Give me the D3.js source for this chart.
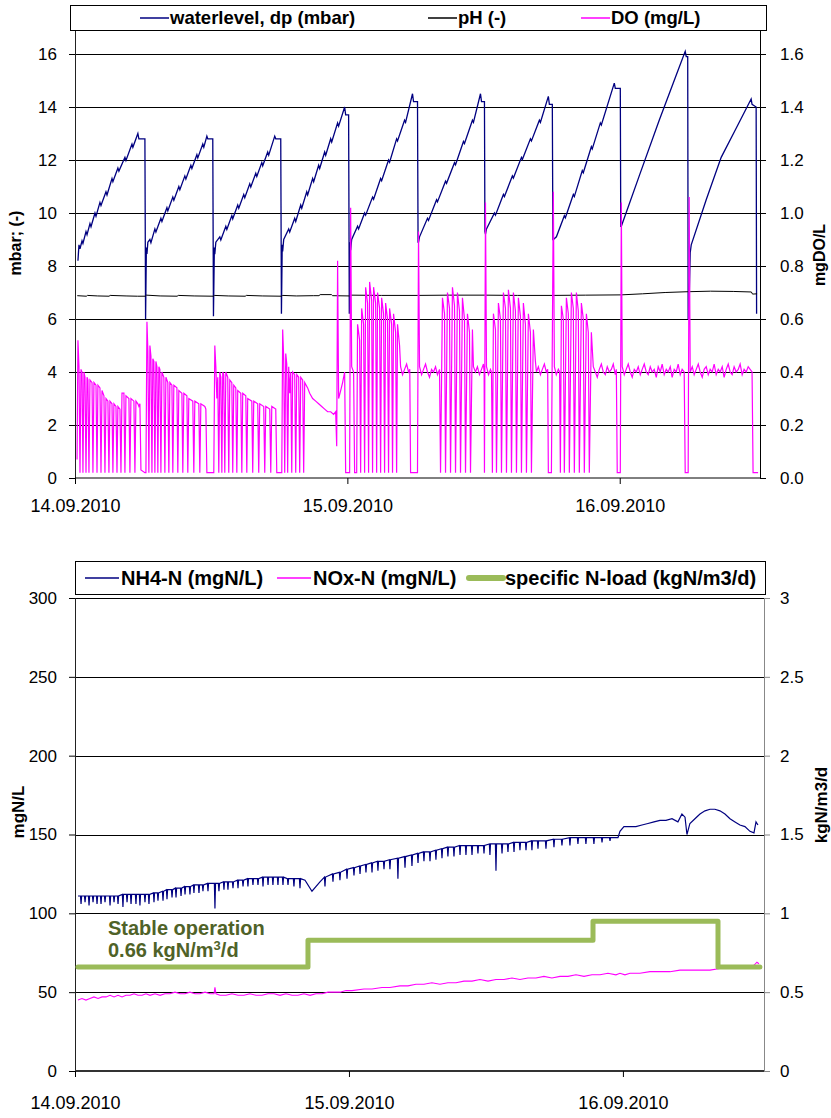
<!DOCTYPE html>
<html><head><meta charset="utf-8">
<script src="https://cdn.jsdelivr.net/npm/d3@7"></script>
<style>body{margin:0;background:#fff} text{font-family:"Liberation Sans",Arial,sans-serif;fill:#000}</style>
</head><body><svg id="c" width="831" height="1118"></svg>
<script>
// ---------------- DATA (time in hours after 14.09.2010 00:00) ----------------
const dayTickHours = [0, 24, 48];
const dayTickLabels = ["14.09.2010", "15.09.2010", "16.09.2010"];
const hoursSpan = [0, 60.36];

const topLeftTicks = [0, 2, 4, 6, 8, 10, 12, 14, 16];
const topRightTicks = [0, 0.2, 0.4, 0.6, 0.8, 1.0, 1.2, 1.4, 1.6];
const botLeftTicks = [0, 50, 100, 150, 200, 250, 300];
const botRightTicks = [0, 0.5, 1, 1.5, 2, 2.5, 3];

const topLegend = ["waterlevel, dp (mbar)", "pH (-)", "DO (mg/L)"];
const botLegend = ["NH4-N (mgN/L)", "NOx-N (mgN/L)", "specific N-load (kgN/m3/d)"];

// waterlevel, dp (mbar)
const waterlevel = [
 [0.26,8.2],[0.35,8.8],[0.44,8.65],[0.62,8.95],[0.70,8.85],[0.97,9.3],[1.06,9.18],[1.32,9.6],[1.41,9.48],[1.76,10.0],[1.85,9.88],
 [2.20,10.4],[2.29,10.28],[2.73,10.8],[2.82,10.68],[3.26,11.3],[3.34,11.18],[3.78,11.7],[3.87,11.58],[4.40,12.1],[4.49,11.98],
 [5.02,12.6],[5.10,12.48],[5.54,13.0],[5.63,12.8],[6.16,12.8],[6.22,6.0],[6.29,8.7],
 [6.34,8.45],[6.42,8.9],[6.60,9.0],[6.69,8.88],[7.04,9.4],[7.13,9.28],[7.57,9.8],[7.66,9.68],[8.10,10.2],[8.18,10.08],[8.62,10.6],[8.71,10.48],
 [9.15,11.0],[9.24,10.88],[9.68,11.4],[9.77,11.28],[10.21,11.8],[10.30,11.68],[10.74,12.2],[10.82,12.08],[11.26,12.6],[11.35,12.48],
 [11.62,12.9],[11.70,12.8],[12.14,12.8],[12.20,6.1],[12.28,8.7],
 [12.32,8.45],[12.41,8.9],[12.76,9.1],[12.85,8.98],[13.29,9.5],[13.38,9.38],[13.82,9.9],[13.90,9.78],[14.34,10.3],[14.43,10.18],
 [14.87,10.7],[14.96,10.58],[15.40,11.1],[15.49,10.98],[15.93,11.5],[16.02,11.38],[16.46,11.9],[16.54,11.78],[16.98,12.3],[17.07,12.18],
 [17.60,12.9],[17.69,12.8],[18.13,12.8],[18.19,6.2],[18.26,8.8],
 [18.30,8.55],[18.39,9.0],[18.83,9.4],[18.92,9.28],[19.36,9.8],[19.45,9.68],[19.89,10.3],[19.98,10.18],[20.42,10.8],[20.50,10.68],
 [20.94,11.3],[21.03,11.18],[21.47,11.8],[21.56,11.68],[22.00,12.3],[22.09,12.18],[22.53,12.8],[22.62,12.68],[23.14,13.4],[23.23,13.28],
 [23.76,14.0],[23.85,13.7],[24.11,13.7],[24.17,6.2],[24.24,8.9],
 [24.29,8.6],[24.38,9.0],[24.90,9.5],[24.99,9.4],[25.52,10.0],[25.61,9.92],[26.22,10.6],[26.31,10.52],[26.93,11.3],[27.02,11.22],
 [27.63,12.0],[27.72,11.92],[28.34,12.8],[28.42,12.72],[29.04,13.5],[29.13,13.42],[29.74,14.5],[29.83,14.2],[30.18,14.2],[30.23,8.9],
 [30.27,8.9],[30.36,9.1],[31.06,9.8],[31.15,9.72],[31.86,10.5],[31.94,10.42],[32.65,11.2],[32.74,11.12],[33.44,11.9],[33.53,11.82],
 [34.23,12.7],[34.32,12.62],[35.02,13.5],[35.11,13.42],[35.73,14.5],[35.82,14.2],[36.08,14.2],[36.12,9.3],
 [36.17,9.2],[36.26,9.4],[36.96,10.0],[37.05,9.92],[37.75,10.7],[37.84,10.62],[38.54,11.4],[38.63,11.32],[39.34,12.1],[39.42,12.02],
 [40.13,12.8],[40.22,12.72],[40.92,13.5],[41.01,13.42],[41.71,14.4],[41.80,14.1],[42.06,14.1],[42.11,9.0],
 [42.15,9.0],[42.42,9.1],[43.12,9.9],[43.21,9.82],[43.91,10.7],[44.00,10.62],[44.70,11.6],[44.79,11.52],[45.50,12.5],[45.58,12.42],
 [46.29,13.4],[46.38,13.32],[47.52,14.9],[47.61,14.7],[48.05,14.7],[48.09,9.5],
 [48.14,9.5],[49.72,11.4],[51.48,13.5],[52.80,15.0],[53.77,16.1],[53.86,15.9],[53.99,15.9],[54.03,6.0],[54.08,6.0],
 [54.21,8.5],[54.30,8.8],[55.62,10.5],[56.94,12.1],[58.26,13.2],[59.58,14.3],[59.66,14.1],[60.02,14.0],[60.06,6.2]
];

// pH (-)
const pH = [
 [0.2,6.88],[1.0,6.86],[1.1,6.89],[2.0,6.87],[3.0,6.86],[3.1,6.89],[4.5,6.87],[5.5,6.86],[6.2,6.86],[6.3,6.90],[7.5,6.87],
 [9.0,6.86],[9.1,6.89],[10.5,6.87],[12.2,6.86],[12.3,6.89],[13.5,6.87],[15.0,6.86],[15.1,6.89],[16.5,6.87],[18.2,6.86],
 [18.3,6.89],[19.5,6.87],[21.0,6.88],[21.5,6.88],[21.6,6.92],[22.6,6.92],[22.7,6.88],[24.2,6.87],[24.3,6.90],[27.0,6.89],
 [30.2,6.89],[33.0,6.90],[36.1,6.90],[39.0,6.89],[42.1,6.89],[45.0,6.90],[48.1,6.91],[50.0,6.95],[52.0,7.00],[54.0,7.03],
 [56.0,7.05],[58.0,7.04],[59.6,7.02],[59.7,6.94],[60.1,6.95]
];

// DO (mg/L), right axis
const DO = [
 [0.18,0.07],[0.26,0.52],[0.35,0.42],[0.44,0.02],[0.53,0.41],[0.62,0.40],[0.70,0.02],[0.79,0.40],[0.88,0.38],[0.97,0.02],
 [1.06,0.38],[1.14,0.37],[1.23,0.02],[1.32,0.37],[1.50,0.36],[1.58,0.02],[1.67,0.36],[1.85,0.35],[1.94,0.02],[2.02,0.35],
 [2.20,0.34],[2.29,0.02],[2.38,0.33],[2.55,0.31],[2.64,0.02],[2.73,0.30],[2.90,0.29],[2.99,0.02],[3.08,0.29],[3.26,0.28],
 [3.34,0.02],[3.43,0.28],[3.61,0.27],[3.70,0.02],[3.78,0.27],[3.96,0.26],[4.05,0.02],[4.14,0.32],[4.31,0.32],[4.40,0.02],
 [4.49,0.31],[4.75,0.30],[4.84,0.02],[4.93,0.30],[5.19,0.29],[5.28,0.02],[5.37,0.29],[5.54,0.28],[5.63,0.27],[5.72,0.28],
 [5.81,0.03],[6.16,0.02],[6.25,0.02],
 [6.34,0.59],[6.42,0.48],[6.51,0.02],[6.60,0.50],[6.69,0.46],[6.78,0.02],[6.86,0.45],[6.95,0.44],[7.04,0.02],[7.13,0.44],
 [7.22,0.42],[7.30,0.02],[7.39,0.42],[7.48,0.41],[7.57,0.02],[7.66,0.40],[7.83,0.38],[7.92,0.02],[8.01,0.38],[8.18,0.36],
 [8.27,0.02],[8.36,0.36],[8.54,0.35],[8.62,0.02],[8.71,0.35],[8.98,0.34],[9.06,0.02],[9.15,0.33],[9.42,0.32],[9.50,0.02],
 [9.59,0.32],[9.86,0.31],[9.94,0.02],[10.03,0.30],[10.38,0.29],[10.47,0.02],[10.56,0.29],[10.91,0.28],[11.00,0.02],[11.09,0.28],
 [11.44,0.27],[11.53,0.26],[11.62,0.02],[12.23,0.02],
 [12.32,0.50],[12.41,0.42],[12.50,0.30],[12.58,0.38],[12.67,0.02],[12.76,0.40],[12.85,0.38],[12.94,0.02],[13.02,0.40],[13.11,0.39],
 [13.20,0.02],[13.29,0.40],[13.46,0.38],[13.55,0.02],[13.64,0.37],[13.82,0.36],[13.90,0.02],[13.99,0.35],[14.17,0.34],[14.26,0.02],
 [14.34,0.33],[14.61,0.32],[14.70,0.02],[14.78,0.32],[15.05,0.31],[15.14,0.02],[15.22,0.30],[15.58,0.29],[15.66,0.02],[15.75,0.29],
 [16.10,0.28],[16.19,0.02],[16.28,0.28],[16.63,0.27],[16.72,0.02],[16.81,0.27],[17.16,0.26],[17.25,0.02],[17.34,0.27],[17.69,0.26],
 [17.78,0.02],[18.22,0.02],
 [18.30,0.56],[18.39,0.45],[18.48,0.02],[18.57,0.47],[18.66,0.43],[18.74,0.02],[18.83,0.42],[18.92,0.32],[19.01,0.40],[19.10,0.02],
 [19.18,0.40],[19.36,0.39],[19.45,0.02],[19.54,0.39],[19.71,0.38],[19.80,0.02],[19.89,0.38],[20.06,0.37],[20.15,0.02],[20.24,0.36],
 [20.50,0.34],[20.68,0.32],[20.94,0.30],[21.21,0.29],[21.47,0.28],[21.74,0.27],[22.00,0.26],[22.26,0.25],[22.53,0.25],[22.79,0.24],
 [22.97,0.25],[23.06,0.12],[23.14,0.82],[23.23,0.30],[23.41,0.33],[23.58,0.36],[23.76,0.40],[23.85,0.02],[24.20,0.02],[24.29,1.02],
 [24.38,0.42],[24.55,0.40],[24.64,0.02],[24.82,0.02],[24.90,0.58],[25.08,0.52],[25.17,0.02],[25.26,0.64],[25.43,0.58],[25.52,0.02],
 [25.61,0.72],[25.78,0.66],[25.87,0.02],[25.96,0.74],[26.14,0.67],[26.22,0.02],[26.31,0.72],[26.49,0.66],[26.58,0.02],[26.66,0.70],
 [26.84,0.64],[26.93,0.02],[27.02,0.68],[27.19,0.62],[27.28,0.02],[27.37,0.66],[27.54,0.60],[27.63,0.02],[27.72,0.64],[27.90,0.58],
 [27.98,0.02],[28.07,0.62],[28.25,0.55],[28.34,0.02],[28.42,0.58],[28.60,0.50],[28.69,0.42],[28.86,0.39],[29.04,0.41],[29.22,0.43],
 [29.39,0.40],[29.50,0.41],[29.57,0.02],[30.18,0.02],[30.27,0.93],
 [30.36,0.42],[30.54,0.39],[30.71,0.41],[30.89,0.43],[31.06,0.40],[31.24,0.38],[31.42,0.41],[31.59,0.40],[31.77,0.42],[31.94,0.39],
 [32.12,0.41],[32.21,0.02],[32.38,0.68],[32.56,0.62],[32.65,0.02],[32.82,0.70],[33.00,0.64],[33.09,0.02],[33.26,0.72],[33.44,0.65],
 [33.53,0.02],[33.70,0.70],[33.88,0.63],[33.97,0.02],[34.14,0.68],[34.32,0.60],[34.41,0.02],[34.58,0.62],[34.76,0.55],[34.85,0.02],
 [35.02,0.56],[35.11,0.42],[35.29,0.40],[35.46,0.42],[35.64,0.39],[35.82,0.41],[35.99,0.43],[36.05,0.40],[36.08,0.02],[36.17,1.04],
 [36.26,0.42],[36.44,0.39],[36.61,0.41],[36.70,0.40],[36.78,0.02],[36.87,0.62],[37.05,0.56],[37.14,0.02],[37.31,0.66],[37.49,0.60],
 [37.58,0.02],[37.75,0.70],[37.93,0.64],[38.02,0.02],[38.19,0.71],[38.37,0.64],[38.46,0.02],[38.63,0.70],[38.81,0.63],[38.90,0.02],
 [39.07,0.68],[39.25,0.61],[39.34,0.02],[39.51,0.66],[39.69,0.58],[39.78,0.02],[39.95,0.62],[40.13,0.55],[40.22,0.02],[40.39,0.56],
 [40.57,0.44],[40.66,0.40],[40.83,0.42],[41.01,0.39],[41.18,0.41],[41.36,0.43],[41.53,0.40],[41.65,0.41],[41.71,0.02],[41.98,0.02],
 [42.15,1.08],[42.24,0.42],[42.41,0.39],[42.59,0.41],[42.70,0.40],[42.77,0.02],[42.86,0.65],[43.03,0.60],[43.12,0.02],[43.30,0.68],
 [43.47,0.62],[43.56,0.02],[43.74,0.70],[43.91,0.64],[44.00,0.02],[44.18,0.70],[44.35,0.63],[44.44,0.02],[44.62,0.66],[44.79,0.60],
 [44.88,0.02],[45.06,0.62],[45.23,0.55],[45.32,0.02],[45.50,0.55],[45.67,0.42],[45.85,0.40],[46.02,0.38],[46.20,0.41],[46.38,0.43],
 [46.55,0.40],[46.73,0.39],[46.90,0.42],[47.08,0.40],[47.26,0.41],[47.43,0.43],[47.61,0.39],[47.70,0.41],[47.78,0.02],[48.05,0.02],
 [48.14,1.04],[48.22,0.42],[48.40,0.39],[48.57,0.41],[48.75,0.43],[48.93,0.40],[49.10,0.38],[49.28,0.41],[49.46,0.40],[49.63,0.42],
 [49.81,0.39],[49.98,0.41],[50.16,0.43],[50.34,0.40],[50.51,0.39],[50.69,0.42],[50.86,0.40],[51.04,0.41],[51.22,0.38],[51.39,0.42],
 [51.57,0.40],[51.74,0.43],[51.92,0.39],[52.10,0.41],[52.27,0.40],[52.45,0.42],[52.62,0.38],[52.80,0.41],[52.98,0.40],[53.15,0.43],
 [53.33,0.39],[53.50,0.41],[53.68,0.40],[53.77,0.02],[54.03,0.02],[54.12,1.06],
 [54.21,0.40],[54.39,0.42],[54.56,0.39],[54.74,0.41],[54.92,0.43],[55.09,0.40],[55.27,0.38],[55.44,0.41],[55.62,0.42],[55.80,0.39],
 [55.97,0.41],[56.15,0.40],[56.32,0.43],[56.50,0.39],[56.68,0.41],[56.85,0.40],[57.03,0.42],[57.20,0.38],[57.38,0.41],[57.56,0.43],
 [57.73,0.40],[57.91,0.39],[58.08,0.42],[58.26,0.40],[58.44,0.41],[58.61,0.43],[58.79,0.39],[58.96,0.41],[59.14,0.40],[59.32,0.42],
 [59.49,0.41],[59.66,0.40],[59.75,0.02],[60.19,0.02]
];

// NH4-N (mgN/L)
const NH4 = [
 [0.26,111],[0.48,111],[0.53,106],[0.58,111],[0.83,111],[0.88,107],[0.93,111],[1.18,111],[1.23,105],[1.28,111],[1.53,111],[1.58,107],[1.63,111],
 [1.88,111],[1.93,106],[1.98,111],[2.23,111],[2.28,106],[2.33,111],[2.58,111],[2.63,107],[2.68,111],[3.02,111],[3.07,105],[3.12,111],
 [3.37,111],[3.42,107],[3.47,111],[3.72,111],[3.77,106],[3.82,111],[4.15,112],[4.20,104],[4.25,112],[4.51,112],[4.56,107],[4.61,112],
 [4.86,112],[4.91,106],[4.96,112],[5.29,112],[5.34,106],[5.39,112],[5.64,112],[5.69,105],[5.74,112],[6.08,112],[6.13,107],[6.18,112],
 [6.43,112],[6.48,106],[6.53,112],[6.87,113],[6.92,107],[6.97,113],[7.22,113],[7.27,108],[7.32,113],[7.66,114],[7.71,108],[7.76,114],
 [8.01,115],[8.06,109],[8.11,115],[8.45,115],[8.50,110],[8.55,115],[8.80,116],[8.85,110],[8.90,116],[9.24,116],[9.29,111],[9.34,116],
 [9.59,117],[9.64,112],[9.69,117],[10.02,117],[10.07,112],[10.12,117],[10.37,118],[10.42,113],[10.47,118],[10.81,118],[10.86,113],[10.91,118],
 [11.16,118],[11.21,114],[11.26,118],[11.60,119],[11.65,114],[11.70,119],[12.21,119],[12.26,103],[12.31,119],[12.56,119],[12.61,114],[12.66,119],
 [13.00,120],[13.05,115],[13.10,120],[13.35,120],[13.40,115],[13.45,120],[13.79,120],[13.84,116],[13.89,120],[14.23,121],[14.28,116],[14.33,121],
 [14.67,121],[14.72,117],[14.77,121],[15.10,122],[15.15,117],[15.20,122],[15.54,122],[15.59,118],[15.64,122],[15.98,122],[16.03,118],[16.08,122],
 [16.42,123],[16.47,117],[16.52,123],[16.86,123],[16.91,118],[16.96,123],[17.29,123],[17.34,118],[17.39,123],[17.73,123],[17.78,118],[17.83,123],
 [18.17,123],[18.22,118],[18.27,123],[18.61,122],[18.66,118],[18.71,122],[19.13,122],[19.18,117],[19.23,122],[19.66,122],[19.71,116],[19.76,122],
 [20.15,121],[20.76,114],[21.46,120],[21.85,123],[21.90,117],[21.95,123],[22.55,125],[22.60,120],[22.65,125],[23.16,126],[23.21,121],[23.26,126],
 [23.78,128],[23.83,122],[23.88,128],[24.39,129],[24.44,124],[24.49,129],[24.92,130],[24.97,125],[25.02,130],[25.44,131],[25.49,126],[25.54,131],
 [25.97,132],[26.02,126],[26.07,132],[26.49,133],[26.54,127],[26.59,133],[27.02,133],[27.07,128],[27.12,133],[27.54,134],[27.59,128],[27.64,134],
 [28.24,135],[28.29,122],[28.34,135],[28.86,136],[28.91,129],[28.96,136],[29.47,137],[29.52,130],[29.57,137],[30.00,138],[30.05,132],[30.10,138],
 [30.52,139],[30.57,133],[30.62,139],[31.05,139],[31.10,133],[31.15,139],[31.57,140],[31.62,134],[31.67,140],[32.10,141],[32.15,135],[32.20,141],
 [32.62,142],[32.67,136],[32.72,142],[33.15,142],[33.20,136],[33.25,142],[33.68,143],[33.73,137],[33.78,143],[34.20,143],[34.25,137],[34.30,143],
 [34.73,143],[34.78,137],[34.83,143],[35.25,143],[35.30,138],[35.35,143],[35.78,143],[35.83,138],[35.88,143],[36.30,144],[36.35,137],[36.40,144],
 [36.83,144],[36.88,127],[36.93,144],[37.36,144],[37.41,138],[37.46,144],[37.88,144],[37.93,139],[37.98,144],[38.41,145],[38.46,139],[38.51,145],
 [38.93,145],[38.98,140],[39.03,145],[39.46,145],[39.51,140],[39.56,145],[39.98,146],[40.03,140],[40.08,146],[40.51,146],[40.56,141],[40.61,146],
 [41.21,146],[41.26,141],[41.31,146],[41.91,147],[41.96,142],[42.01,147],[42.61,147],[42.66,143],[42.71,147],[43.31,148],[43.36,143],[43.41,148],
 [44.01,148],[44.06,144],[44.11,148],[44.71,148],[44.76,144],[44.81,148],[45.41,148],[45.46,144],[45.51,148],[46.12,148],[46.17,145],[46.22,148],
 [46.82,148],[46.87,146],[46.92,148],[47.57,148],[47.74,152],[48.09,155],[48.62,155],[49.14,155],[49.67,156],[50.19,157],[50.72,158],
 [51.25,159],[51.77,159],[52.30,160],[52.82,158],[53.17,163],[53.44,161],[53.61,150],[53.87,157],[54.31,160],[54.75,163],[55.19,165],
 [55.63,166],[56.06,166],[56.50,165],[56.94,163],[57.38,160],[57.82,158],[58.25,156],[58.69,155],[59.13,152],[59.48,151],[59.66,158],[59.83,156]
];

// NOx-N (mgN/L)
const NOx = [
 [0.26,45],[0.61,46],[0.96,45],[1.31,46],[1.66,47],[2.02,46],[2.37,47],[2.72,47],[3.07,48],[3.42,47],[3.77,48],[4.12,47],[4.47,48],
 [4.82,48],[5.17,49],[5.52,48],[5.87,48],[6.22,49],[6.57,48],[7.01,49],[7.45,48],[7.88,49],[8.32,49],[8.76,50],[9.20,49],[9.64,49],
 [10.07,50],[10.51,49],[10.95,49],[11.39,50],[11.83,49],[12.18,49],[12.26,53],[12.35,49],[12.70,48],[13.23,48],[13.75,49],[14.28,48],
 [14.80,48],[15.33,49],[15.86,48],[16.38,48],[16.91,49],[17.43,49],[17.96,48],[18.48,49],[19.01,48],[19.53,48],[20.06,49],[20.59,48],
 [21.11,49],[21.64,49],[22.16,50],[22.69,50],[23.21,50],[23.74,51],[24.27,51],[25.32,52],[26.02,52],[26.89,53],[27.59,53],[28.47,54],
 [29.17,54],[29.87,55],[30.57,55],[31.27,56],[31.97,55],[32.67,56],[33.38,56],[34.08,57],[34.78,57],[35.48,58],[36.18,57],[36.88,58],
 [37.58,58],[38.28,59],[38.98,58],[39.68,59],[40.38,59],[41.08,60],[41.78,59],[42.49,60],[43.19,60],[43.89,61],[44.59,60],[45.29,61],
 [45.99,61],[46.69,62],[47.39,61],[47.74,62],[48.18,61],[48.62,62],[49.49,62],[50.37,63],[51.25,63],[52.12,63],[53.00,64],[53.87,64],
 [54.75,64],[55.63,64],[56.50,65],[57.38,65],[58.25,65],[59.13,66],[59.48,67],[59.74,69],[59.92,68]
];

// specific N-load (kgN/m3/d), right axis, step changes
const Nload = [[0.26,0.66],[20.41,0.83],[45.38,0.95],[56.33,0.66],[60.0,0.66]];

// ---------------- DRAWING ----------------
const svg = d3.select("#c");

function yAxes(g, yL, yR, leftTicks, rightTicks, x0, x1, yTop, rightFmt, rightColor, rightPad) {
  g.append("g").selectAll("line").data(leftTicks.filter(t => t !== 0)).join("line")
    .attr("x1", x0).attr("x2", x1).attr("y1", d => Math.round(yL(d)) + 0.5).attr("y2", d => Math.round(yL(d)) + 0.5)
    .attr("stroke", "#000").attr("stroke-width", 1);
  const la = g.append("g").attr("transform", `translate(${x0},0)`)
    .call(d3.axisLeft(yL).tickValues(leftTicks).tickSize(6).tickPadding(12));
  la.select(".domain").remove();
  la.selectAll(".tick line").attr("stroke", "#000");
  la.selectAll(".tick text").style("font-size", "17px").attr("fill", "#000");
  g.append("line").attr("x1", x0 + 0.5).attr("x2", x0 + 0.5).attr("y1", yTop).attr("y2", yL(0)).attr("stroke", "#222");
  const ra = g.append("g").attr("transform", `translate(${x1},0)`)
    .call(d3.axisRight(yR).tickValues(rightTicks).tickSize(6).tickPadding(rightPad).tickFormat(rightFmt));
  ra.select(".domain").remove();
  ra.selectAll(".tick line").attr("stroke", rightColor);
  ra.selectAll(".tick text").style("font-size", "17px").attr("fill", "#000");
  g.append("line").attr("x1", x1 + 0.5).attr("x2", x1 + 0.5).attr("y1", yTop).attr("y2", yL(0)).attr("stroke", rightColor);
}

function xAxis(g, x, y0, pad, w, col) {
  g.append("line").attr("x1", x.range()[0]).attr("x2", x.range()[1]).attr("y1", y0).attr("y2", y0)
    .attr("stroke", col).attr("stroke-width", w);
  const xa = g.append("g").attr("transform", `translate(0,${y0})`)
    .call(d3.axisBottom(x).tickValues(dayTickHours).tickSize(6).tickPadding(pad).tickFormat((d, i) => dayTickLabels[i]));
  xa.select(".domain").remove();
  xa.selectAll(".tick line").attr("stroke", "#000");
  xa.selectAll(".tick text").style("font-size", "18px").attr("fill", "#000");
}

function yTitle(g, txt, x, y, fs) {
  g.append("text").attr("transform", `translate(${x},${y}) rotate(-90)`).attr("text-anchor", "middle")
    .style("font-size", fs + "px").style("font-weight", "bold").text(txt);
}

// ===== TOP CHART =====
const gTop = svg.append("g");
const xT = d3.scaleLinear().domain(hoursSpan).range([75, 760]);
const yT = d3.scaleLinear().domain([0, 16]).range([478, 54]);
const yTR = d3.scaleLinear().domain([0, 1.6]).range([478, 54]);
yAxes(gTop, yT, yTR, topLeftTicks, topRightTicks, 75, 760, 30, d3.format(".1f"), "#000", 14);
xAxis(gTop, xT, 478, 15, 1, "#000");

const lineT = d3.line().x(d => xT(d[0])).y(d => yT(d[1]));
const lineTR = d3.line().x(d => xT(d[0])).y(d => yTR(d[1]));
gTop.append("path").datum(waterlevel).attr("d", lineT).attr("fill", "none").attr("stroke", "#000080").attr("stroke-width", 1.3);
gTop.append("path").datum(pH).attr("d", lineT).attr("fill", "none").attr("stroke", "#000").attr("stroke-width", 1);
gTop.append("path").datum(DO).attr("d", lineTR).attr("fill", "none").attr("stroke", "#FF00FF").attr("stroke-width", 1.2);

yTitle(gTop, "mbar; (-)", 21, 243, 16);
yTitle(gTop, "mgDO/L", 825, 255, 16);

gTop.append("rect").attr("x", 70.5).attr("y", 5.5).attr("width", 696).attr("height", 25).attr("fill", "#fff").attr("stroke", "#000");
const tLeg = [
  {x: 140, c: "#000080", w: 1.5}, {x: 428, c: "#000", w: 1.5}, {x: 581, c: "#FF00FF", w: 1.5}
];
tLeg.forEach((d, i) => {
  gTop.append("line").attr("x1", d.x).attr("x2", d.x + 29).attr("y1", 18).attr("y2", 18).attr("stroke", d.c).attr("stroke-width", d.w);
  gTop.append("text").attr("x", d.x + 30).attr("y", 24).style("font-size", "18.5px").style("font-weight", "bold").text(topLegend[i]);
});

// ===== BOTTOM CHART =====
const gBot = svg.append("g");
const xB = d3.scaleLinear().domain(hoursSpan).range([75, 764]);
const yB = d3.scaleLinear().domain([0, 300]).range([1071, 598]);
const yBR = d3.scaleLinear().domain([0, 3]).range([1071, 598]);
yAxes(gBot, yB, yBR, botLeftTicks, botRightTicks, 75, 764, 598, d3.format("~g"), "#888", 10);
xAxis(gBot, xB, 1071, 19, 2, "#333");

const lineB = d3.line().x(d => xB(d[0])).y(d => yB(d[1]));
const lineBR = d3.line().x(d => xB(d[0])).y(d => yBR(d[1])).curve(d3.curveStepAfter);
gBot.append("path").datum(NH4).attr("d", lineB).attr("fill", "none").attr("stroke", "#000080").attr("stroke-width", 1.2);
gBot.append("path").datum(NOx).attr("d", lineB).attr("fill", "none").attr("stroke", "#FF00FF").attr("stroke-width", 1.1);
gBot.append("path").datum(Nload).attr("d", lineBR).attr("fill", "none").attr("stroke", "#9BBB59").attr("stroke-width", 5)
  .attr("stroke-linecap", "round").attr("stroke-linejoin", "round");

yTitle(gBot, "mgN/L", 24, 812, 17);
yTitle(gBot, "kgN/m3/d", 827, 805, 17);

const ann = gBot.append("text").attr("x", 108).attr("y", 935).style("font-size", "20px").style("font-weight", "bold").style("fill", "#4F6228");
ann.append("tspan").attr("x", 108).text("Stable operation");
const l2 = ann.append("tspan").attr("x", 108).attr("dy", 22).text("0.66 kgN/m");
l2.append("tspan").attr("dy", -7).style("font-size", "13px").text("3");
l2.append("tspan").attr("dy", 7).text("/d");

gBot.append("rect").attr("x", 75.5).attr("y", 561.5).attr("width", 690).attr("height", 33).attr("fill", "#fff").attr("stroke", "#000");
const bLeg = [
  {x: 85, c: "#000080", w: 1.5}, {x: 277, c: "#FF00FF", w: 1.5}, {x: 469, c: "#9BBB59", w: 6}
];
bLeg.forEach((d, i) => {
  gBot.append("line").attr("x1", d.x).attr("x2", d.x + 34).attr("y1", 578).attr("y2", 578).attr("stroke", d.c)
    .attr("stroke-width", d.w).attr("stroke-linecap", i === 2 ? "round" : "butt");
  gBot.append("text").attr("x", d.x + 36).attr("y", 585).style("font-size", "20px").style("font-weight", "bold").text(botLegend[i]);
});
</script>
</body></html>
